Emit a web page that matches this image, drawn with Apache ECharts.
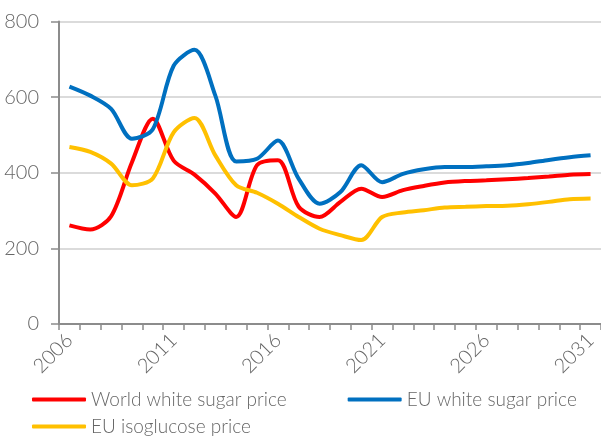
<!DOCTYPE html>
<html>
<head>
<meta charset="utf-8">
<script src="https://cdn.jsdelivr.net/npm/echarts@6/dist/echarts.min.js"></script>
<style>
  html, body { margin: 0; padding: 0; background: #fff; }
  #chart { width: 601px; height: 441px; }
</style>
</head>
<body>
<div id="chart"></div>
<script>
const years = ['2006','2007','2008','2009','2010','2011','2012','2013','2014','2015','2016','2017','2018',
               '2019','2020','2021','2022','2023','2024','2025','2026','2027','2028','2029','2030','2031'];
const world_white = [261, 250, 285, 428, 543, 432, 395, 345, 283, 420, 433, 310, 283,
                     323, 358, 336, 354, 365, 374, 378, 380, 383, 386, 390, 395, 397];
const eu_white    = [628, 604, 569, 490, 515, 683, 725, 604, 430, 437, 485, 384, 318,
                     349, 420, 375, 397, 409, 415, 415, 417, 420, 426, 434, 441, 446];
const eu_iso      = [468, 455, 424, 367, 385, 507, 545, 446, 367, 347, 318, 283, 252,
                     235, 222, 283, 295, 301, 308, 310, 312, 313, 317, 323, 330, 332];
const y_ticks = [0, 200, 400, 600, 800];

const font  = 'Lato';
const gray  = '#666666';

const chart = echarts.init(document.getElementById('chart'));

function line(name, data, color){
    return {
        name: name,
        type: 'line',
        data: data,
        smooth: 0.3,
        symbol: 'none',
        lineStyle: { color: color, width: 4 },
        itemStyle: { color: color }
    };
}

const option = {
    animation: false,
    grid: { left: 59, top: 21.5, width: 543, bottom: 117 },
    xAxis: {
        type: 'category',
        data: years,
        boundaryGap: true,
        axisLine: { lineStyle: { color: '#8c8c8c', width: 2 } },
        axisTick: { show: true, interval: 0, length: 6, lineStyle: { color: '#8c8c8c', width: 1.5 } },
        axisLabel: { interval: 4, rotate: 45, margin: 13, fontFamily: font, fontWeight: 300, fontSize: 20, color: gray }
    },
    yAxis: {
        type: 'value',
        min: y_ticks[0],
        max: y_ticks[y_ticks.length-1],
        interval: 200,
        axisLine: { show: true, lineStyle: { color: '#8c8c8c', width: 2 } },
        axisTick: { show: true, length: 8, lineStyle: { color: '#8c8c8c', width: 1.5 } },
        axisLabel: { margin: 20, fontFamily: font, fontWeight: 300, fontSize: 20, color: gray },
        splitLine: { lineStyle: { color: '#cfcfcf', width: 1.5 } }
    },
    legend: [{
        data: ['World white sugar price', 'EU white sugar price'],
        left: 32, top: 390, width: 580, padding: 0,
        icon: 'roundRect', itemWidth: 54, itemHeight: 4, itemGap: 61,
        textStyle: { fontFamily: font, fontWeight: 300, fontSize: 19, color: gray }
    }, {
        data: ['EU isoglucose price'],
        left: 32, top: 417, padding: 0,
        icon: 'roundRect', itemWidth: 54, itemHeight: 4,
        textStyle: { fontFamily: font, fontWeight: 300, fontSize: 19, color: gray }
    }],
    series: [
        line('World white sugar price', world_white, '#ff0000'),
        line('EU white sugar price', eu_white, '#0070c0'),
        line('EU isoglucose price', eu_iso, '#ffc000')
    ]
};
chart.setOption(option);
</script>
</body>
</html>
